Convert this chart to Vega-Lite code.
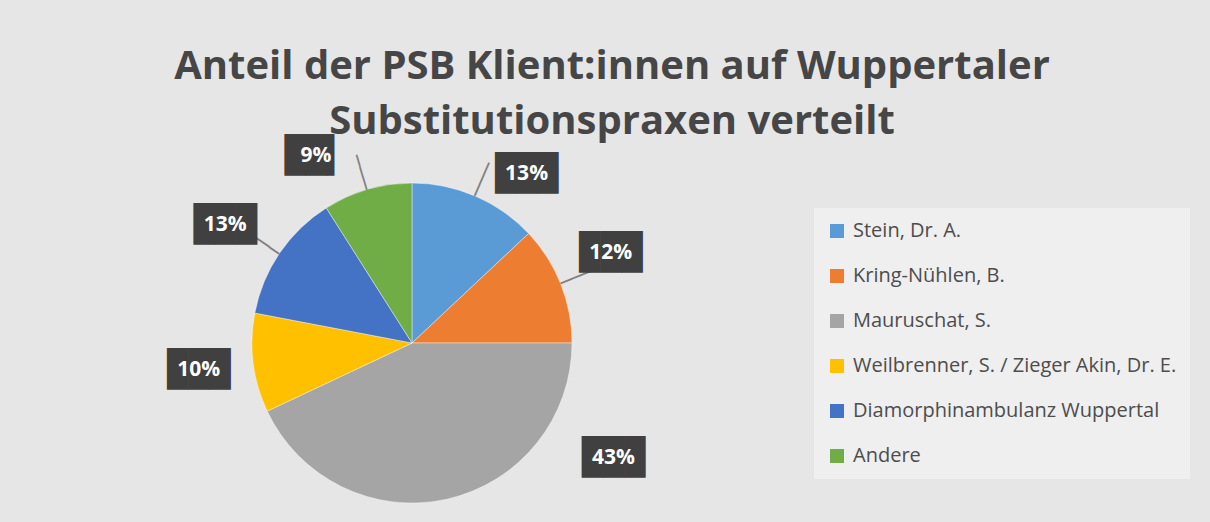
{
  "$schema": "https://vega.github.io/schema/vega-lite/v6.json",
  "width": 320,
  "height": 320,
  "autosize": {"type": "none"},
  "padding": {"left": 252, "top": 183, "right": 638, "bottom": 19},
  "background": "#e6e6e6",
  "config": {"view": {"stroke": null}},
  "title": {
    "text": ["Anteil der PSB Klient:innen auf Wuppertaler", "Substitutionspraxen verteilt"],
    "font": "Open Sans",
    "fontSize": 40,
    "fontWeight": "bold",
    "color": "#464646",
    "anchor": "middle",
    "frame": "group",
    "dx": 200,
    "offset": -3,
    "lineHeight": 55
  },
  "data": {
    "values": [
      {"name": "Stein, Dr. A.", "share": 0.13},
      {"name": "Kring-Nühlen, B.", "share": 0.12},
      {"name": "Mauruschat, S.", "share": 0.43},
      {"name": "Weilbrenner, S. / Zieger Akin, Dr. E.", "share": 0.10},
      {"name": "Diamorphinambulanz Wuppertal", "share": 0.13},
      {"name": "Andere", "share": 0.09}
    ]
  },
  "transform": [{"window": [{"op": "row_number", "as": "rank"}]}],
  "encoding": {
    "theta": {"field": "share", "type": "quantitative", "stack": true},
    "order": {"field": "rank", "type": "quantitative"}
  },
  "layer": [
    {
      "mark": {"type": "arc", "stroke": "#ffffff", "strokeWidth": 0.4},
      "encoding": {
        "color": {
          "field": "name",
          "type": "nominal",
          "scale": {
            "domain": ["Stein, Dr. A.", "Kring-Nühlen, B.", "Mauruschat, S.", "Weilbrenner, S. / Zieger Akin, Dr. E.", "Diamorphinambulanz Wuppertal", "Andere"],
            "range": ["#5B9BD5", "#ED7D31", "#A5A5A5", "#FFC000", "#4472C4", "#70AD47"]
          },
          "legend": {
            "title": null,
            "orient": "none",
            "legendX": 562,
            "legendY": 25,
            "symbolType": "square",
            "symbolSize": 196,
            "symbolStrokeWidth": 0,
            "labelFont": "Open Sans",
            "labelFontSize": 20,
            "labelColor": "#4d4d4d",
            "labelLimit": 500,
            "labelOffset": 6,
            "rowPadding": 25,
            "padding": 13,
            "fillColor": "#efefef",
            "strokeColor": null
          }
        }
      }
    },
    {
      "mark": {
        "type": "text",
        "font": "DejaVu Sans Mono",
        "fontSize": 20,
        "color": "#7f7f7f",
        "radius": 178,
        "align": "center",
        "baseline": "middle",
        "angle": {"expr": "(datum.share_start + datum.share_end) / 2 * 360 - 90"}
      },
      "encoding": {
        "detail": {"field": "name", "type": "nominal"},
        "text": {"condition": {"test": "datum.rank == 3 || datum.rank == 4", "value": ""}, "value": "───"}
      }
    },
    {
      "mark": {
        "type": "text",
        "font": "DejaVu Sans Mono",
        "fontSize": 35,
        "color": "#404040",
        "align": "center",
        "baseline": "middle",
        "radius": {"expr": "datum.rank == 1 ? 204 : datum.rank == 2 ? 218 : datum.rank == 3 ? 232 : datum.rank == 5 ? 221 : datum.rank == 6 ? 210 : 215"},
        "thetaOffset": {"expr": "datum.rank == 1 ? 0.188 : datum.rank == 2 ? -0.047 : datum.rank == 3 ? -0.831 : datum.rank == 5 ? -0.034 : datum.rank == 6 ? -0.192 : 0"}
      },
      "encoding": {
        "detail": {"field": "name", "type": "nominal"},
        "text": {"condition": {"test": "datum.share < 0.1", "value": "██▍"}, "value": "███"}
      }
    },
    {
      "mark": {
        "type": "text",
        "font": "Open Sans",
        "fontSize": 21,
        "fontWeight": "bold",
        "color": "#ffffff",
        "align": "center",
        "baseline": "middle",
        "radius": {"expr": "datum.rank == 1 ? 204 : datum.rank == 2 ? 218 : datum.rank == 3 ? 232 : datum.rank == 5 ? 221 : datum.rank == 6 ? 210 : 215"},
        "thetaOffset": {"expr": "datum.rank == 1 ? 0.188 : datum.rank == 2 ? -0.047 : datum.rank == 3 ? -0.831 : datum.rank == 5 ? -0.034 : datum.rank == 6 ? -0.192 : 0"}
      },
      "encoding": {
        "detail": {"field": "name", "type": "nominal"},
        "text": {"field": "share", "type": "quantitative", "format": ".0%"}
      }
    }
  ]
}
